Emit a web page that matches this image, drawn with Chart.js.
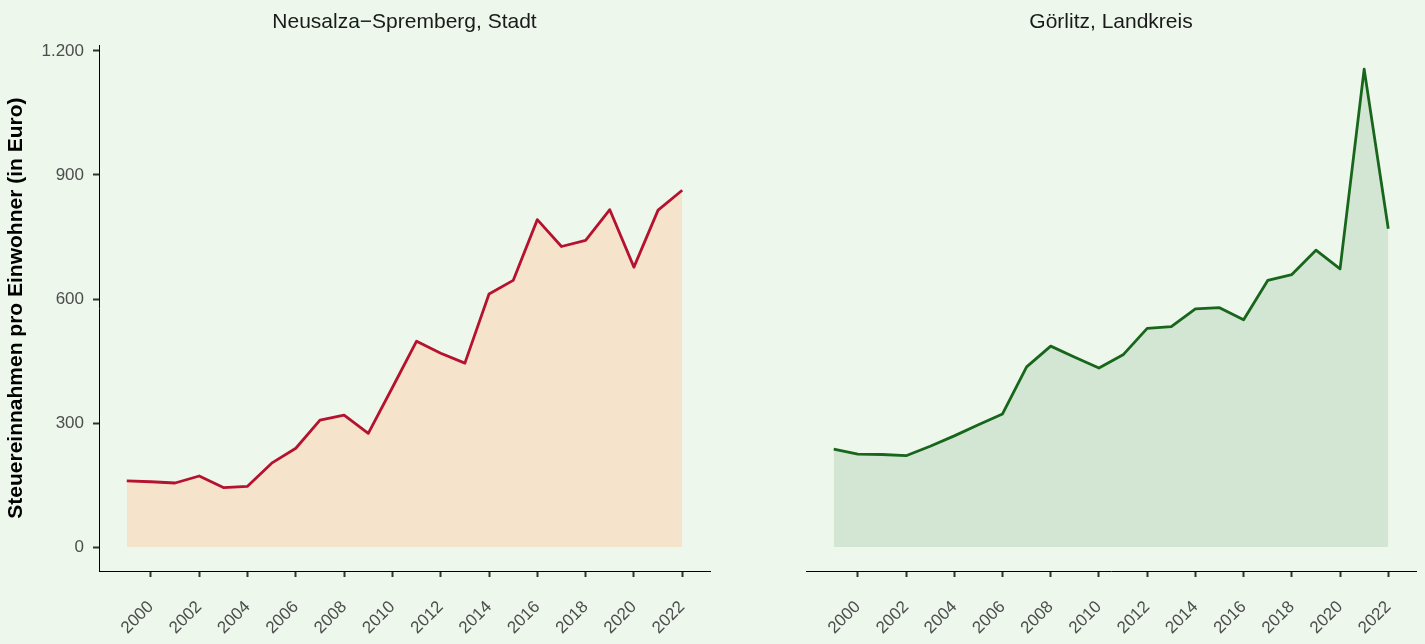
<!DOCTYPE html>
<html>
<head>
<meta charset="utf-8">
<script src="https://cdn.jsdelivr.net/npm/chart.js@4.4.1/dist/chart.umd.min.js"></script>
<style>
  html, body { margin: 0; padding: 0; background: #EDF7EC; }
  #wrap { position: relative; width: 1425px; height: 644px; overflow: hidden; }
  canvas { position: absolute; top: 0; }
</style>
</head>
<body>
<div id="wrap">
  <canvas id="chartLinks" width="720" height="644" style="left:0px"></canvas>
  <canvas id="chartRechts" width="705" height="644" style="left:720px"></canvas>
</div>
<script>
// Jahre und Werte (Steuereinnahmen pro Einwohner in Euro)
var jahre = [1999, 2000, 2001, 2002, 2003, 2004, 2005, 2006, 2007, 2008, 2009, 2010,
             2011, 2012, 2013, 2014, 2015, 2016, 2017, 2018, 2019, 2020, 2021, 2022];
var neusalza = [160, 158, 155, 172, 144, 147, 203, 239, 307, 319, 275, 386,
                498, 469, 445, 612, 645, 792, 727, 742, 816, 677, 815, 863];
var goerlitz = [237, 225, 224, 221, 244, 269, 296, 322, 436, 486, 459, 433,
                465, 529, 533, 576, 579, 550, 645, 659, 718, 673, 1156, 770];

var xTicks = [2000, 2002, 2004, 2006, 2008, 2010, 2012, 2014, 2016, 2018, 2020, 2022];
var yTicks = [0, 300, 600, 900, 1200];
var yTickLabels = ['0', '300', '600', '900', '1.200'];

var titelLinks = 'Neusalza\u2212Spremberg, Stadt';
var titelRechts = 'Görlitz, Landkreis';
var yTitel = 'Steuereinnahmen pro Einwohner (in Euro)';

Chart.defaults.font.family = "'Liberation Sans', Arial, sans-serif";

function punkte(werte) {
    return jahre.map(function (j, i) { return { x: j, y: werte[i] }; });
}

function baueChart(id, titel, werte, linie, flaeche, mitY, pad) {
    var ctx = document.getElementById(id).getContext('2d');
    return new Chart(ctx, {
        type: 'line',
        data: {
            datasets: [{
                data: punkte(werte),
                borderColor: linie,
                backgroundColor: flaeche,
                borderWidth: 2.8,
                borderJoinStyle: 'round',
                fill: 'origin',
                pointRadius: 0,
                tension: 0
            }]
        },
        options: {
            responsive: false,
            animation: false,
            devicePixelRatio: 1,
            layout: { padding: pad },
            plugins: {
                legend: { display: false },
                tooltip: { enabled: false },
                title: {
                    display: true,
                    text: titel,
                    fullSize: false,
                    color: '#1a1a1a',
                    font: { size: 21, weight: 'normal' },
                    padding: { top: 10, bottom: 10 }
                }
            },
            scales: {
                x: {
                    type: 'linear',
                    min: 1997.85,
                    max: 2023.15,
                    afterBuildTicks: function (s) {
                        s.ticks = xTicks.map(function (v) { return { value: v }; });
                    },
                    afterFit: function (s) { s.height = 73; },
                    ticks: {
                        color: '#4d4d4d',
                        font: { size: 17 },
                        minRotation: 45,
                        maxRotation: 45,
                        padding: 20,
                        callback: function (v) { return String(v); }
                    },
                    grid: {
                        drawOnChartArea: false,
                        drawTicks: true,
                        tickLength: 6,
                        tickWidth: 2,
                        tickColor: '#333333'
                    },
                    border: { display: true, color: '#000000', width: 1 }
                },
                y: {
                    display: mitY,
                    min: -57.8,
                    max: 1213.8,
                    afterBuildTicks: function (s) {
                        s.ticks = yTicks.map(function (v) { return { value: v }; });
                    },
                    afterFit: function (s) { if (mitY) s.width = 99; },
                    ticks: {
                        color: '#4d4d4d',
                        font: { size: 17 },
                        padding: 9,
                        callback: function (v) {
                            var i = yTicks.indexOf(v);
                            return i >= 0 ? yTickLabels[i] : '';
                        }
                    },
                    grid: {
                        drawOnChartArea: false,
                        drawTicks: true,
                        tickLength: 6,
                        tickWidth: 2,
                        tickColor: '#333333'
                    },
                    border: { display: true, color: '#000000', width: 1 },
                    title: {
                        display: true,
                        text: yTitel,
                        color: '#000000',
                        font: { size: 21, weight: 'bold' },
                        padding: { top: 4, bottom: 0 }
                    }
                }
            }
        }
    });
}

baueChart('chartLinks', titelLinks, neusalza, '#B5122F', 'rgba(245, 227, 204, 1)', true,
          { left: 0, right: 10, top: 0, bottom: 0 });
baueChart('chartRechts', titelRechts, goerlitz, '#17661B', 'rgba(211, 229, 211, 1)', false,
          { left: 86, right: 9, top: 0, bottom: 0 });
</script>
</body>
</html>
